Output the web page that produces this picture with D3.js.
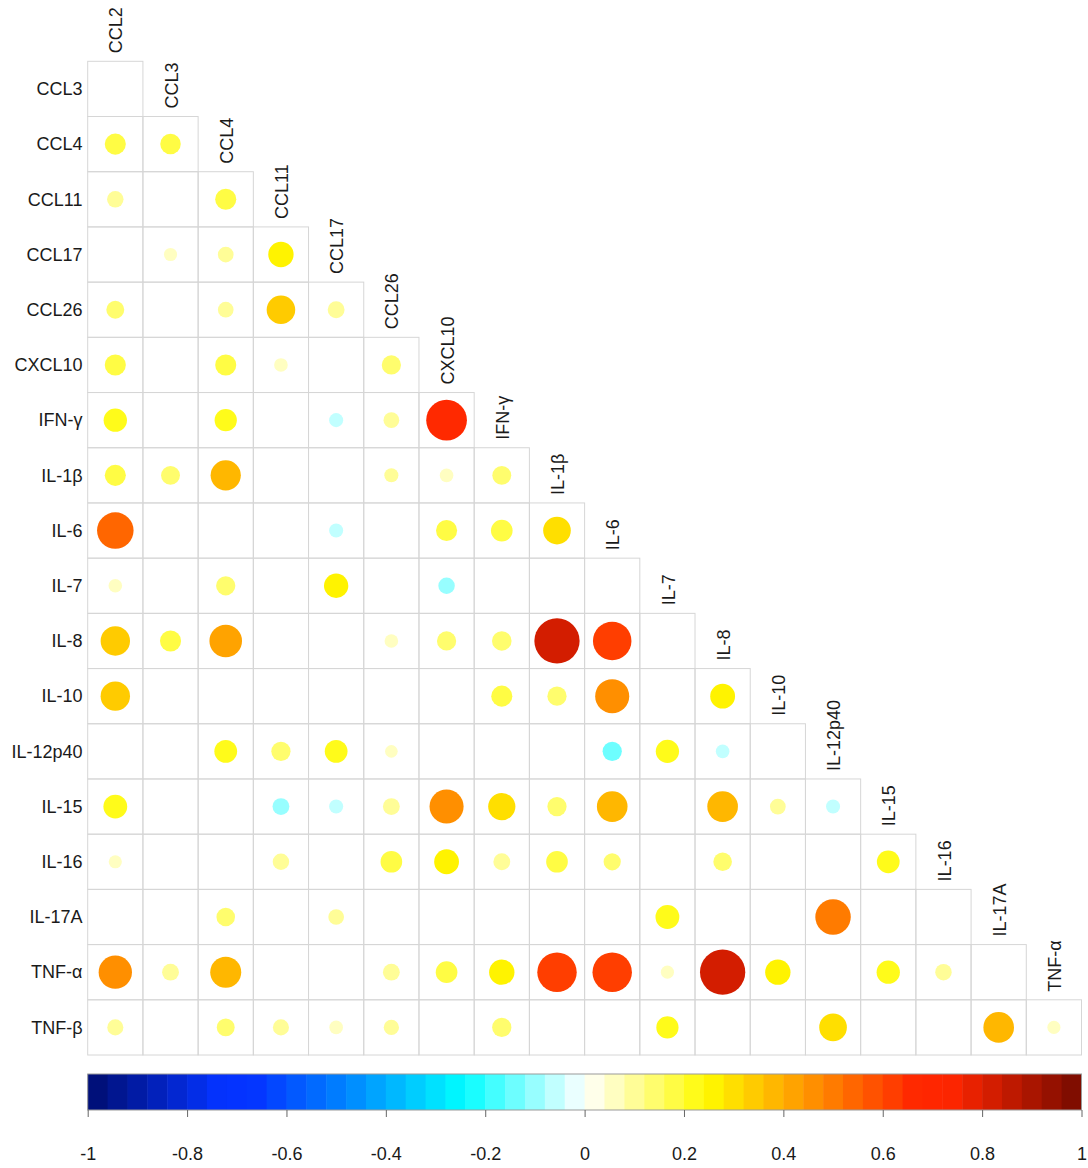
<!DOCTYPE html>
<html>
<head>
<meta charset="utf-8">
<script src="https://cdn.jsdelivr.net/npm/d3@7"></script>
<style>
  html, body { margin: 0; padding: 0; background: #fff; }
  svg { display: block; }
  text { font-family: "Liberation Sans", Arial, sans-serif; fill: #1a1a1a; }
</style>
</head>
<body>
<svg id="chart" width="1088" height="1168"></svg>
<script>
// Variables shown as columns (top labels) and rows (left labels)
const colLabels = ["CCL2","CCL3","CCL4","CCL11","CCL17","CCL26","CXCL10","IFN-γ","IL-1β","IL-6","IL-7","IL-8","IL-10","IL-12p40","IL-15","IL-16","IL-17A","TNF-α"];
const rowLabels = ["CCL3","CCL4","CCL11","CCL17","CCL26","CXCL10","IFN-γ","IL-1β","IL-6","IL-7","IL-8","IL-10","IL-12p40","IL-15","IL-16","IL-17A","TNF-α","TNF-β"];

// Correlation values (lower triangle, null = not shown / insignificant)
const _ = null;
const rowCCL3    = [_];
const rowCCL4    = [0.18, 0.17, _];
const rowCCL11   = [0.11, _, 0.18, _];
const rowCCL17   = [_, 0.07, 0.10, 0.26, _];
const rowCCL26   = [0.13, _, 0.10, 0.33, 0.115, _];
const rowCXCL10  = [0.18, _, 0.18, 0.075, _, 0.15, _];
const rowIFNg    = [0.22, _, 0.20, _, -0.08, 0.10, 0.67, _];
const rowIL1b    = [0.18, 0.145, 0.37, _, _, 0.08, 0.075, 0.145, _];
const rowIL6     = [0.54, _, _, _, -0.08, _, 0.18, 0.19, 0.31, _];
const rowIL7     = [0.075, _, 0.15, _, 0.24, _, -0.11, _, _, _, _];
const rowIL8     = [0.35, 0.18, 0.43, _, _, 0.075, 0.15, 0.155, 0.83, 0.60, _, _];
const rowIL10    = [0.35, _, _, _, _, _, _, 0.18, 0.15, 0.47, _, 0.25, _];
const rowIL12p40 = [_, _, 0.21, 0.15, 0.21, 0.065, _, _, _, -0.15, 0.22, -0.075, _, _];
const rowIL15    = [0.23, _, _, -0.115, -0.08, 0.115, 0.47, 0.30, 0.15, 0.38, _, 0.38, 0.10, -0.08, _];
const rowIL16    = [0.07, _, _, 0.11, _, 0.19, 0.25, 0.115, 0.19, 0.12, _, 0.14, _, _, 0.21, _];
const rowIL17A   = [_, _, 0.14, _, 0.10, _, _, _, _, _, 0.23, _, _, 0.51, _, _, _];
const rowTNFa    = [0.45, 0.115, 0.39, _, _, 0.115, 0.19, 0.26, 0.63, 0.63, 0.07, 0.83, 0.26, _, 0.22, 0.11, _, _];
const rowTNFb    = [0.105, _, 0.13, 0.105, 0.075, 0.095, _, 0.15, _, _, 0.20, _, _, 0.31, _, _, 0.38, 0.07];
const corrRows = [rowCCL3,rowCCL4,rowCCL11,rowCCL17,rowCCL26,rowCXCL10,rowIFNg,rowIL1b,rowIL6,rowIL7,rowIL8,rowIL10,rowIL12p40,rowIL15,rowIL16,rowIL17A,rowTNFa,rowTNFb];

// Colour legend (ramp stops and their positions along the ramp)
const rampPositions = [0, 0.125, 0.16, 0.25, 0.375, 0.5, 0.625, 0.75, 0.84, 0.875, 1];
const rampColors = ["#00107A","#0433FF","#0433FF","#0080FF","#00FDFF","#FFFFFF","#FFFB00","#FF8000","#FF2600","#FF2600","#800D00"];
const nColors = 50;
const legendTicks = [-1,-0.8,-0.6,-0.4,-0.2,0,0.2,0.4,0.6,0.8,1];

const svg = d3.select("#chart");
const ramp = d3.scaleLinear().domain(rampPositions).range(rampColors).interpolate(d3.interpolateRgb);
const palette = d3.range(nColors).map(i => ramp(i / (nColors - 1)));
const color = d3.scaleQuantize().domain([-1, 1]).range(palette);

const x = d3.scaleBand().domain(colLabels).range([87.7, 1081.5]);
const y = d3.scaleBand().domain(rowLabels).range([61.3, 1055]);
const bw = x.bandwidth(), bh = y.bandwidth();

const cells = [];
corrRows.forEach((row, i) => {
  for (let j = 0; j <= i; j++) {
    cells.push({r: rowLabels[i], c: colLabels[j], v: row[j] === undefined ? null : row[j]});
  }
});

// grid
svg.append("g").selectAll("rect").data(cells).join("rect")
  .attr("x", d => x(d.c)).attr("y", d => y(d.r))
  .attr("width", bw).attr("height", bh)
  .attr("fill", "none").attr("stroke", "#d6d6d6").attr("stroke-width", 1);

// circles
svg.append("g").selectAll("circle").data(cells.filter(d => d.v !== null)).join("circle")
  .attr("cx", d => x(d.c) + bw / 2)
  .attr("cy", d => y(d.r) + bh / 2)
  .attr("r", d => 0.9 * Math.sqrt(Math.abs(d.v)) * bw / 2)
  .attr("fill", d => color(d.v));

// row labels
svg.append("g").selectAll("text").data(rowLabels).join("text")
  .attr("x", 82.5).attr("y", d => y(d) + bh / 2).attr("dy", "0.35em")
  .attr("text-anchor", "end").attr("font-size", 18).text(d => d);

// column labels (above the diagonal cells)
svg.append("g").selectAll("text").data(colLabels).join("text")
  .attr("transform", (d, i) => `translate(${x(d) + bw / 2 + 0.8},${y(rowLabels[i]) - 8}) rotate(-90)`)
  .attr("dy", "0.35em").attr("text-anchor", "start").attr("font-size", 18).text(d => d);

// colour bar
const lx = d3.scaleLinear().domain([-1, 1]).range([87.7, 1081.5]);
const segW = (lx(1) - lx(-1)) / nColors;
const bar = svg.append("g");
bar.selectAll("rect").data(palette).join("rect")
  .attr("x", (d, i) => lx(-1) + i * segW).attr("y", 1074)
  .attr("width", segW + 0.5).attr("height", 36)
  .attr("fill", d => d);
bar.append("rect").attr("x", lx(-1)).attr("y", 1074).attr("width", lx(1) - lx(-1)).attr("height", 36)
  .attr("fill", "none").attr("stroke", "#9a9a9a").attr("stroke-width", 1);

const axis = d3.axisBottom(lx).tickValues(legendTicks).tickSize(7).tickPadding(30)
  .tickFormat(d => String(d));
const ag = svg.append("g").attr("transform", "translate(0,1110)").call(axis);
ag.select(".domain").remove();
ag.selectAll(".tick line").attr("stroke", "#666");
ag.selectAll(".tick text").attr("font-size", 18).attr("fill", "#1a1a1a")
  .attr("font-family", "Liberation Sans, Arial, sans-serif");
</script>
</body>
</html>
